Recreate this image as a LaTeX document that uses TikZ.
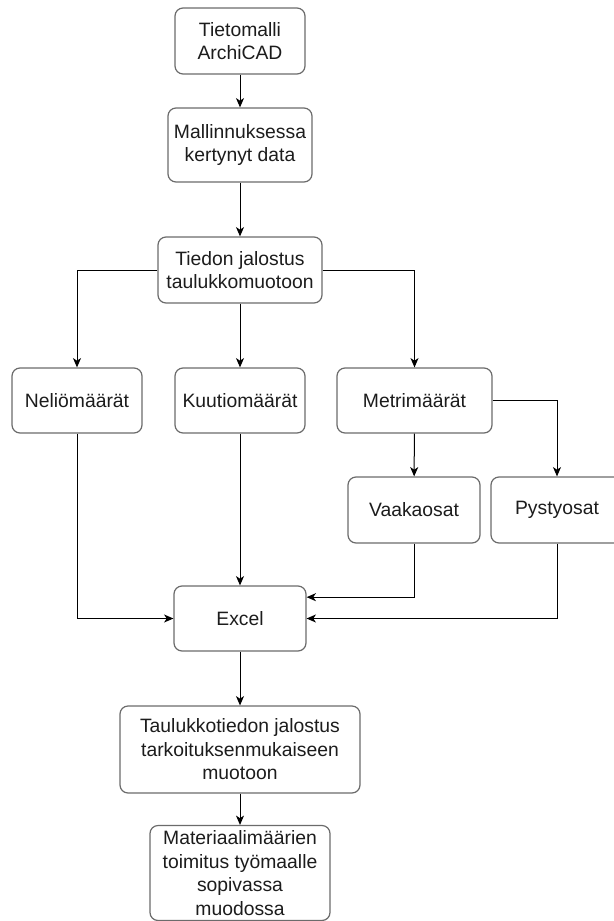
\documentclass[tikz,border=0pt]{standalone}
\usepackage{fontspec}
\setmainfont{Liberation Sans}
\usetikzlibrary{arrows.meta}
\definecolor{boxline}{HTML}{6B6B6B}
\definecolor{textcol}{HTML}{1C1C1C}
\begin{document}
\begin{tikzpicture}[x=0.75pt,y=-0.75pt,
  box/.style={draw=boxline, line width=0.9pt, rounded corners=6pt, fill=white,
    align=center, text=textcol, inner sep=0pt,
    font=\fontsize{14.5}{17.6}\selectfont},
  sz/.style 2 args={minimum width=#1*0.75pt, minimum height=#2*0.75pt},
  link/.style={draw=black, line width=0.75pt,
    -{Stealth[length=7pt,width=6pt,inset=2pt]}}
]
\useasboundingbox (0,0) rectangle (614,921);
\clip (0,0) rectangle (614,921);

% process boxes
\node[box,sz={130}{66}] (model) at (240,41) {Tietomalli\\ArchiCAD};
\node[box,sz={144}{74}] (data) at (240,145) {Mallinnuksessa\\kertynyt data};
\node[box,sz={164}{66}] (refine) at (240,270) {Tiedon jalostus\\taulukkomuotoon};
\node[box,sz={130}{65}] (area) at (77,400.5) {Neliömäärät};
\node[box,sz={130}{65}] (volume) at (240,400.5) {Kuutiomäärät};
\node[box,sz={155}{65}] (length) at (414.5,400.5) {Metrimäärät};
\node[box,sz={132}{66}] (horiz) at (414,510) {Vaakaosat};
\node[box,sz={132}{66}] (vert) at (557,510) {Pystyosat};
\node[box,sz={132}{65}] (excel) at (240,618.5) {Excel};
\node[box,sz={240}{87}] (tablework) at (240,749.5) {Taulukkotiedon jalostus\\tarkoituksenmukaiseen\\muotoon};
\node[box,sz={180}{95}] (delivery) at (240,873) {Materiaalimäärien\\toimitus työmaalle\\sopivassa\\muodossa};

% connectors
\draw[link] (model) -- (data);
\draw[link] (data) -- (refine);
\draw[link] (refine) -- (volume);
\draw[link] (refine.west) -| (area.north);
\draw[link] (refine.east) -| (length.north);
\draw[link] (length) -- (horiz);
\draw[link] (length.east) -| (vert.north);
\draw[link] (area.south) |- (excel.west);
\draw[link] (volume) -- (excel);
\draw[link] (horiz.south) |- ([yshift=16pt]excel.east);
\draw[link] (vert.south) |- (excel.east);
\draw[link] (excel) -- (tablework);
\draw[link] (tablework) -- (delivery);
\end{tikzpicture}
\end{document}
